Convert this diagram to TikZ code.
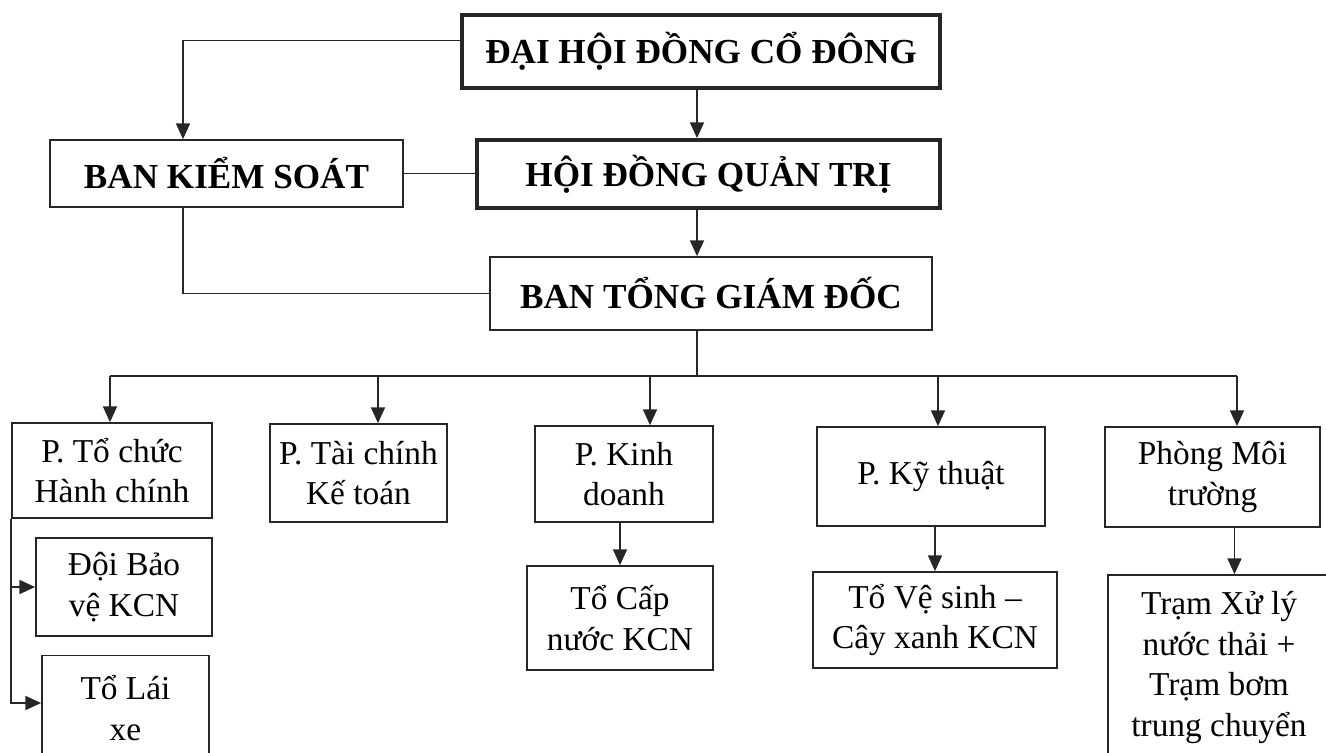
\documentclass[tikz,border=0pt]{standalone}
\usepackage{fontspec}
\setmainfont{Liberation Serif}
\usetikzlibrary{arrows.meta}
\tikzstyle{topbox} = [rectangle, draw=black!85, line width=1pt, inner sep=0pt, align=center, font=\fontsize{20}{24}\selectfont\bfseries]
\tikzstyle{mainbox} = [topbox, line width=2.2pt]
\tikzstyle{unit} = [rectangle, draw=black!85, line width=1pt, inner sep=0pt, align=center, font=\fontsize{19}{23}\selectfont]
\tikzstyle{link} = [draw=black!85, line width=0.9pt]
\tikzstyle{arrow} = [link, -{Triangle[length=9pt, width=8pt]}]

\begin{document}
\begin{tikzpicture}[x=0.02cm, y=-0.02cm]
\useasboundingbox (0,0) rectangle (1326,752);
  % Define the blocks
\node (dhcd) [mainbox, minimum width=9.56cm, minimum height=1.46cm] at (701,51.5) {ĐẠI HỘI ĐỒNG CỔ ĐÔNG};
\node (bks) [topbox, minimum width=7.06cm, minimum height=1.34cm] at (226.5,173.5) {BAN KIỂM SOÁT};
\node (hdqt) [mainbox, minimum width=9.26cm, minimum height=1.36cm] at (708.5,174) {HỘI ĐỒNG QUẢN TRỊ};
\node (btgd) [topbox, minimum width=8.84cm, minimum height=1.46cm] at (711,293.5) {BAN TỔNG GIÁM ĐỐC};

\node (tchc) [unit, minimum width=4cm, minimum height=1.9cm] at (112,470.5) {P. Tổ chức\\Hành chính};
\node (tckt) [unit, minimum width=3.54cm, minimum height=1.96cm] at (358.5,473) {P. Tài chính\\Kế toán};
\node (kd) [unit, minimum width=3.56cm, minimum height=1.92cm] at (624,474) {P. Kinh\\doanh};
\node (kt) [unit, minimum width=4.56cm, minimum height=1.98cm] at (931,476.5) {P. Kỹ thuật};
\node (mt) [unit, minimum width=4.3cm, minimum height=2cm] at (1212.5,477) {Phòng Môi\\trường};

\node (dbv) [unit, minimum width=3.52cm, minimum height=1.96cm] at (124,587) {Đội Bảo\\vệ KCN};
\node (tlx) [unit, minimum width=3.34cm, minimum height=2.1cm] at (125.5,708) {Tổ Lái\\xe};
\node (tcn) [unit, minimum width=3.72cm, minimum height=2.08cm] at (620,618) {Tổ Cấp\\nước KCN};
\node (tvs) [unit, minimum width=4.88cm, minimum height=1.92cm] at (935,620) {Tổ Vệ sinh –\\Cây xanh KCN};
\node (trxl) [unit, minimum width=4.44cm, minimum height=3.7cm] at (1219,667.5) {Trạm Xử lý\\nước thải +\\Trạm bơm\\trung chuyển};

% Points on the lines
\coordinate (spine) at (697,0);
\coordinate (side) at (183,0);
\coordinate (b1) at (110,376);
\coordinate (b2) at (378,376);
\coordinate (b3) at (650,376);
\coordinate (b4) at (938,376);
\coordinate (b5) at (1237,376);

% Draw the arrows
\draw [arrow] ([yshift=0.22cm]dhcd.west) -| (side |- bks.north);
\draw [arrow] (dhcd.south -| spine) -- (hdqt.north -| spine);
\draw [link] (bks.east) -- (bks.east -| hdqt.west);
\draw [arrow] (hdqt.south -| spine) -- (btgd.north -| spine);
\draw [link] (side |- bks.south) |- (btgd.west);
\draw [link] (btgd.south -| spine) -- (spine |- b1);
\draw [link] (b1) -- (b5);
\draw [arrow] (b1) -- (b1 |- tchc.north);
\draw [arrow] (b2) -- (b2 |- tckt.north);
\draw [arrow] (b3) -- (b3 |- kd.north);
\draw [arrow] (b4) -- (b4 |- kt.north);
\draw [arrow] (b5) -- (b5 |- mt.north);
\draw [arrow] (tchc.south west) |- ([yshift=0.1cm]tlx.west);
\draw [arrow] (tchc.south west |- dbv.west) -- (dbv.west);
\draw [arrow] (tcn.north |- kd.south) -- (tcn.north);
\draw [arrow] (tvs.north |- kt.south) -- (tvs.north);
\draw [arrow] ([xshift=0.44cm]mt.south) -- ([xshift=0.44cm]mt.south |- trxl.north);

\end{tikzpicture}
\end{document}
